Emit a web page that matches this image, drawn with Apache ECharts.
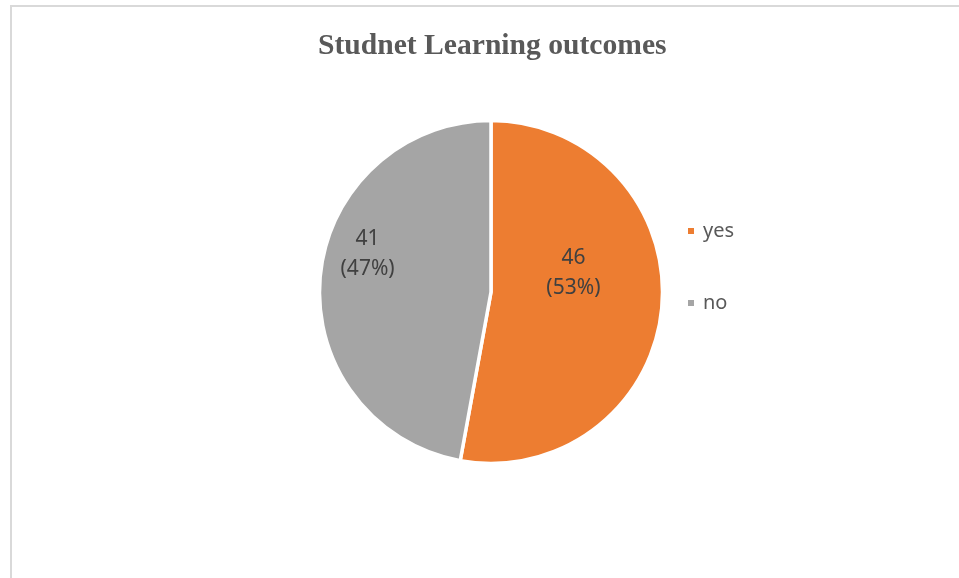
<!DOCTYPE html>
<html>
<head>
<meta charset="utf-8">
<script src="https://cdn.jsdelivr.net/npm/echarts@6/dist/echarts.min.js"></script>
<style>
  html, body { margin: 0; padding: 0; background: #fff; }
  #frame { position: absolute; left: 10px; top: 5px; width: 960px; height: 580px;
           border-top: 2px solid #d9d9d9; border-left: 2px solid #d9d9d9; box-sizing: border-box; }
  #chart { position: absolute; left: 0; top: 0; width: 959px; height: 578px; }
</style>
</head>
<body>
<div id="frame"></div>
<div id="chart"></div>
<script>
const titleText = 'Studnet Learning outcomes';
const categories = ['yes', 'no'];
const values = [46, 41];
const colors = ['#ED7D31', '#A5A5A5'];
const labelOffsets = [[-6, -27], [-35, -30]];

const chart = echarts.init(document.getElementById('chart'), null, { renderer: 'canvas' });
const total = values.reduce((a, b) => a + b, 0);

chart.setOption({
  animation: false,
  backgroundColor: 'transparent',
  title: {
    text: titleText,
    left: 313,
    top: 26,
    textStyle: { fontFamily: 'Liberation Serif', fontWeight: 'bold', fontSize: 29.6, color: '#595959' }
  },
  legend: {
    orient: 'vertical',
    left: 681,
    top: 216,
    itemWidth: 8,
    itemHeight: 8,
    itemGap: 52,
    icon: 'rect',
    data: categories,
    textStyle: { fontFamily: 'Noto Sans', fontSize: 20, color: '#595959', lineHeight: 20, padding: [0, 0, 0, 3] }
  },
  series: [{
    type: 'pie',
    center: [491, 292],
    radius: [0, 171.5],
    startAngle: 90,
    clockwise: true,
    avoidLabelOverlap: false,
    itemStyle: { borderColor: '#ffffff', borderWidth: 3.5 },
    emphasis: { disabled: true },
    label: {
      show: true,
      position: 'inside',
      fontFamily: 'Noto Sans',
      fontSize: 21,
      lineHeight: 30,
      color: '#404040',
      formatter: p => p.value + '\n(' + Math.round(p.value / total * 100) + '%)'
    },
    labelLine: { show: false },
    data: categories.map((c, i) => ({
      name: c,
      value: values[i],
      itemStyle: { color: colors[i] },
      label: { offset: labelOffsets[i] }
    }))
  }]
});
</script>
</body>
</html>
